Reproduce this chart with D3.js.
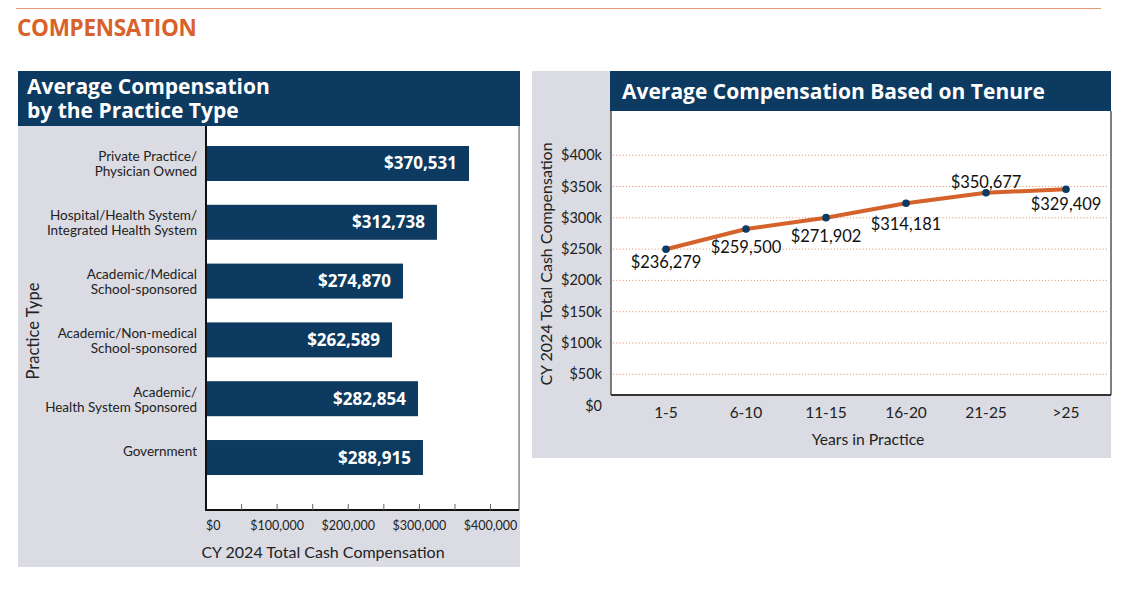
<!DOCTYPE html>
<html><head><meta charset="utf-8">
<script src="https://cdn.jsdelivr.net/npm/d3@7"></script>
<style>body{margin:0;background:#fff} svg{display:block}</style></head>
<body><svg id="c" width="1128" height="597"></svg>
<script>
// ---------- data ----------
const practiceTypes = ["Private Practice/\nPhysician Owned","Hospital/Health System/\nIntegrated Health System","Academic/Medical\nSchool-sponsored","Academic/Non-medical\nSchool-sponsored","Academic/\nHealth System Sponsored","Government"];
const barValues = [369700, 324700, 276900, 261500, 298000, 305000];
const barLabels = ["$370,531","$312,738","$274,870","$262,589","$282,854","$288,915"];
const barTickValues = [0, 100000, 200000, 300000, 400000];
const barMinorTicks = [50000,100000,150000,200000,250000,300000,350000,400000];

const tenureCats = ["1-5","6-10","11-15","16-20","21-25",">25"];
const tenureValues = [249700, 282100, 300200, 323200, 340100, 345500];
const tenureLabels = ["$236,279","$259,500","$271,902","$314,181","$350,677","$329,409"];
const tenureTicks = [0,50000,100000,150000,200000,250000,300000,350000,400000];
const tenureTickLabels = ["$0","$50k","$100k","$150k","$200k","$250k","$300k","$350k","$400k"];

// ---------- style ----------
const NAVY = "#0d3a60", GRAY = "#dadbe3", ORANGE = "#d4622a";
const svg = d3.select("#c");
const SANS = "Lato, 'Open Sans', sans-serif";
const TITLE = "'Open Sans', sans-serif";

// header
svg.append("line").attr("x1",16).attr("x2",1101).attr("y1",8.5).attr("y2",8.5).attr("stroke","#e59a76").attr("stroke-width",1.2);
svg.append("text").attr("x",17).attr("y",36).text("COMPENSATION")
  .attr("font-family",TITLE).attr("font-weight",700).attr("font-size",22.5).attr("fill","#d9622b").attr("letter-spacing",-0.3);

// ---------- left chart ----------
svg.append("rect").attr("x",18).attr("y",71).attr("width",502).attr("height",496).attr("fill",GRAY);
svg.append("rect").attr("x",18).attr("y",71).attr("width",502).attr("height",55).attr("fill",NAVY);
svg.append("text").attr("font-family",TITLE).attr("font-weight",700).attr("font-size",21).attr("fill","#fff")
  .selectAll("tspan").data(["Average Compensation","by the Practice Type"]).join("tspan")
  .attr("x",27).attr("y",(d,i)=>94+i*24).text(d=>d);

const L = {left:206, right:519, top:126, bottom:510};
svg.append("rect").attr("x",L.left).attr("y",L.top).attr("width",L.right-L.left).attr("height",L.bottom-L.top).attr("fill","#fff");
svg.append("line").attr("x1",L.right).attr("x2",L.right).attr("y1",L.top).attr("y2",L.bottom).attr("stroke","#777").attr("stroke-width",1.2);

const xB = d3.scaleLinear().domain([0,440000]).range([L.left, L.right]);
const yB = d3.scaleBand().domain(practiceTypes).range([126,495]).paddingInner(0.405).paddingOuter(0.34);

svg.append("g").selectAll("rect").data(practiceTypes).join("rect")
  .attr("x",xB(0)).attr("y",d=>yB(d)).attr("height",yB.bandwidth())
  .attr("width",(d,i)=>xB(barValues[i])-xB(0)).attr("fill",NAVY);

svg.append("g").selectAll("text").data(practiceTypes).join("text")
  .attr("x",(d,i)=>xB(barValues[i])-12).attr("y",d=>yB(d)+yB.bandwidth()/2+6)
  .attr("text-anchor","end").attr("fill","#fff").attr("font-family",TITLE).attr("font-weight",700).attr("font-size",17)
  .text((d,i)=>barLabels[i]);

// category labels
const cl = svg.append("g").selectAll("text").data(practiceTypes).join("text")
  .attr("text-anchor","end").attr("font-family",SANS).attr("font-size",13.5).attr("fill","#222");
cl.each(function(d){
  const c = yB(d)+yB.bandwidth()/2;
  d3.select(this).selectAll("tspan").data(d.split("\n")).join("tspan")
    .attr("x",197).attr("y",(t,i)=>c-2+i*15).text(t=>t);
});

// axes lines
svg.append("line").attr("x1",L.left).attr("x2",L.left).attr("y1",L.top).attr("y2",L.bottom+1).attr("stroke","#111").attr("stroke-width",2);
svg.append("line").attr("x1",L.left).attr("x2",L.right).attr("y1",L.bottom).attr("y2",L.bottom).attr("stroke","#111").attr("stroke-width",2);
svg.append("g").selectAll("line").data(barMinorTicks).join("line")
  .attr("x1",d=>xB(d)).attr("x2",d=>xB(d)).attr("y1",L.bottom-6).attr("y2",L.bottom).attr("stroke","#666").attr("stroke-width",1);
svg.append("g").selectAll("text").data(barTickValues).join("text")
  .attr("x",d=>xB(d)).attr("y",530).attr("text-anchor",d=>d===0?"start":"middle")
  .attr("font-family",SANS).attr("font-size",12.5).attr("fill","#222")
  .text(d=>"$"+d3.format(",")(d));
svg.append("text").attr("x",323).attr("y",558).attr("text-anchor","middle").attr("font-family",SANS).attr("font-size",16).attr("fill","#222")
  .text("CY 2024 Total Cash Compensation");
svg.append("text").attr("transform","translate(39,331) rotate(-90)").attr("text-anchor","middle")
  .attr("font-family",SANS).attr("font-size",16.5).attr("fill","#222").text("Practice Type");

// ---------- right chart ----------
svg.append("rect").attr("x",532).attr("y",71).attr("width",579).attr("height",387).attr("fill",GRAY);
svg.append("rect").attr("x",610).attr("y",71).attr("width",501).attr("height",40).attr("fill",NAVY);
svg.append("text").attr("x",622).attr("y",99).attr("font-family",TITLE).attr("font-weight",700).attr("font-size",21).attr("fill","#fff")
  .text("Average Compensation Based on Tenure");

const R = {left:611, right:1111, top:111, bottom:395};
svg.append("rect").attr("x",R.left).attr("y",R.top).attr("width",R.right-R.left).attr("height",R.bottom-R.top).attr("fill","#fff");
svg.append("line").attr("x1",R.right).attr("x2",R.right).attr("y1",R.top).attr("y2",R.bottom).attr("stroke","#555").attr("stroke-width",1.5);
svg.append("line").attr("x1",R.left).attr("x2",R.left).attr("y1",R.top).attr("y2",R.bottom).attr("stroke","#555").attr("stroke-width",1.5);

const xT = d3.scalePoint().domain(tenureCats).range([666,1066]);
const yT = d3.scaleLinear().domain([0,400000]).range([405.6,155.2]);

svg.append("g").selectAll("line").data(tenureTicks.filter(d=>d>0)).join("line")
  .attr("x1",R.left+2).attr("x2",R.right-4).attr("y1",d=>yT(d)).attr("y2",d=>yT(d))
  .attr("stroke","#e8875a").attr("stroke-width",1).attr("stroke-dasharray","1,2.2");
svg.append("line").attr("x1",R.left).attr("x2",R.right).attr("y1",R.bottom).attr("y2",R.bottom).attr("stroke","#333").attr("stroke-width",2);

svg.append("g").selectAll("text").data(tenureTicks).join("text")
  .attr("x",602).attr("y",d=>yT(d)+5).attr("text-anchor","end")
  .attr("font-family",SANS).attr("font-size",14.5).attr("fill","#222")
  .text((d,i)=>tenureTickLabels[i]);
svg.append("g").selectAll("text").data(tenureCats).join("text")
  .attr("x",d=>xT(d)).attr("y",418).attr("text-anchor","middle")
  .attr("font-family",SANS).attr("font-size",15.5).attr("fill","#222").text(d=>d);
svg.append("text").attr("x",868).attr("y",445).attr("text-anchor","middle").attr("font-family",SANS).attr("font-size",15.7).attr("fill","#222")
  .text("Years in Practice");
svg.append("text").attr("transform","translate(552,264) rotate(-90)").attr("text-anchor","middle")
  .attr("font-family",SANS).attr("font-size",16).attr("fill","#222").text("CY 2024 Total Cash Compensation");

const line = d3.line().x((d,i)=>xT(tenureCats[i])).y(d=>yT(d));
svg.append("path").datum(tenureValues).attr("d",line).attr("fill","none").attr("stroke",ORANGE).attr("stroke-width",4).attr("stroke-linejoin","round");
svg.append("g").selectAll("circle").data(tenureValues).join("circle")
  .attr("cx",(d,i)=>xT(tenureCats[i])).attr("cy",d=>yT(d)).attr("r",3.8).attr("fill",NAVY);

const labelDy = [19, 23.5, 24.5, 27, -5, 21];
svg.append("g").selectAll("text").data(tenureLabels).join("text")
  .attr("x",(d,i)=>xT(tenureCats[i])).attr("y",(d,i)=>yT(tenureValues[i])+labelDy[i])
  .attr("text-anchor","middle").attr("font-family",SANS).attr("font-size",16.5).attr("fill","#111").text(d=>d);
</script></body></html>
